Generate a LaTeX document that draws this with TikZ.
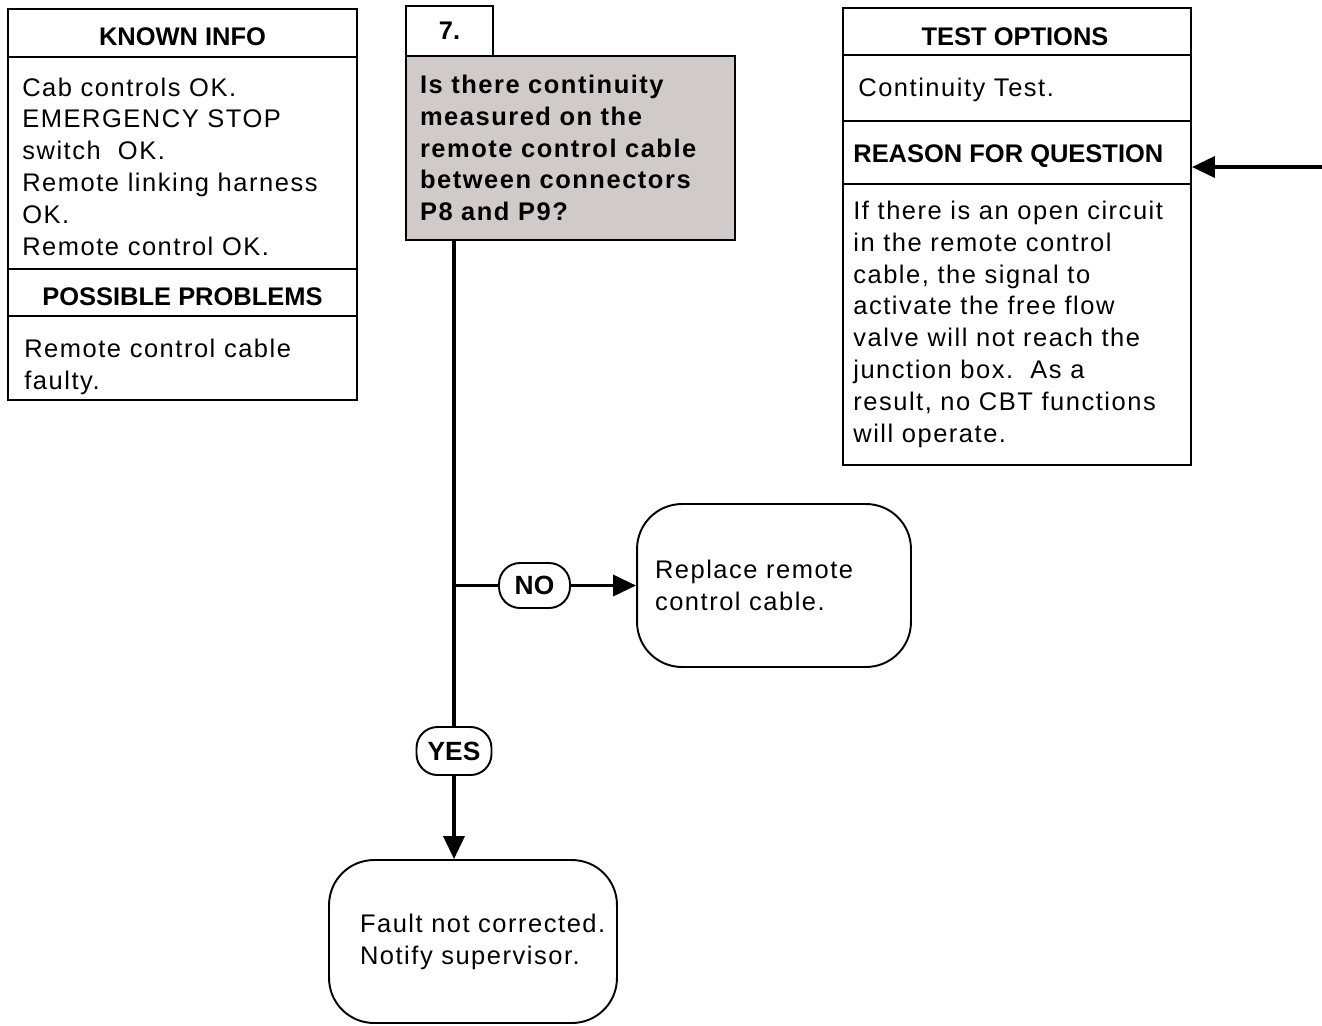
\documentclass[tikz,border=0pt]{standalone}
\usepackage{fontspec}
\setmainfont{Liberation Sans}
\newfontfamily\spacedfont[LetterSpace=6]{Liberation Sans}
\usetikzlibrary{arrows.meta, positioning, calc}
\definecolor{qgrey}{RGB}{208,202,200}
\tikzset{
  panel/.style={rectangle,draw,line width=1.1pt,inner sep=0pt},
  head/.style={font=\fontsize{14.5}{18.1}\selectfont\bfseries,inner sep=0pt,anchor=base},
  % base anchor of a multi-line node sits on its last line
  body/.style={font=\spacedfont\fontsize{14.5}{18.1}\selectfont,align=left,inner sep=0pt,anchor=base west},
  question/.style={rectangle,draw,line width=1.1pt,fill=qgrey,align=left,
    font=\spacedfont\fontsize{14.5}{18.1}\selectfont\bfseries,
    text width=6.02cm,inner xsep=0.28cm,minimum width=6.58cm,minimum height=3.68cm},
  stepno/.style={rectangle,draw,line width=1.1pt,fill=white,
    font=\fontsize{14.5}{18.1}\selectfont\bfseries,minimum width=1.74cm,minimum height=1cm},
  action/.style={rectangle,draw,line width=1.1pt,rounded corners=0.9cm,align=left,
    font=\spacedfont\fontsize{14.5}{18.1}\selectfont,minimum height=3.26cm},
  answer/.style={rectangle,draw,line width=1.1pt,rounded corners=0.42cm,fill=white,
    font=\fontsize{15}{18.1}\selectfont\bfseries,inner sep=0pt},
  trunk/.style={line width=2.2pt},
  flow/.style={line width=2.1pt,-{Triangle[length=0.46cm,width=0.42cm]}}
}
\newcommand{\faultindent}{\hspace*{0.54cm}}
\begin{document}
\begin{tikzpicture}[x=0.02cm,y=-0.02cm]
  \useasboundingbox (0,0) rectangle (1322,1025);

  % known info panel
  \node[panel,minimum width=6.98cm,minimum height=7.82cm] (known) at (182.5,204.5) {};
  \draw[line width=1.1pt] (known.west |- 0,57) -- (known.east |- 0,57);
  \draw[line width=1.1pt] (known.west |- 0,269) -- (known.east |- 0,269);
  \draw[line width=1.1pt] (known.west |- 0,316) -- (known.east |- 0,316);
  \node[head] (knownhd) at (182.5,45) {KNOWN INFO};
  \node[body] (knowntxt) at (22,255) {Cab controls OK.\\EMERGENCY STOP\\switch\ \ OK.\\Remote linking harness\\OK.\\Remote control OK.};
  \node[head] (probhd) at (182.5,305) {POSSIBLE PROBLEMS};
  \node[body] (probtxt) at (24,389) {Remote control cable\\faulty.};

  % question
  \node[question] (question) at (570.5,148) {Is there continuity\\measured on the\\remote control cable\\between connectors\\P8 and P9?};
  \node[stepno] (stepno) at (449.5,31) {7.};

  % test options panel
  \node[panel,minimum width=6.96cm,minimum height=9.14cm] (test) at (1017,236.5) {};
  \draw[line width=1.1pt] (test.west |- 0,55) -- (test.east |- 0,55);
  \draw[line width=1.1pt] (test.west |- 0,121) -- (test.east |- 0,121);
  \draw[line width=1.1pt] (test.west |- 0,184) -- (test.east |- 0,184);
  \node[head] (testhd) at (1015,45) {TEST OPTIONS};
  \node[body] (testtxt) at (858,96) {Continuity Test.};
  \node[head,anchor=base west] (reasonhd) at (853,162) {REASON FOR QUESTION};
  \node[body] (reasontxt) at (853,442) {If there is an open circuit\\in the remote control\\cable, the signal to\\activate the free flow\\valve will not reach the\\junction box.\ \ As a\\result, no CBT functions\\will operate.};
  \coordinate (feed) at (1322,167);
  \draw[flow] (feed) -- (feed -| test.east);

  % answers
  \node[answer,minimum width=1.42cm,minimum height=0.9cm] (no) at (534.5,585.5) {NO};
  \node[answer,minimum width=1.5cm,minimum height=0.96cm] (yes) at (454,751) {YES};
  \node[action,minimum width=5.48cm,text width=4.76cm] (replace) at (774,585.5) {Replace remote\\control cable.};
  \node[action,minimum width=5.76cm,text width=5.6cm,inner xsep=0.08cm] (fault) at (473,941.5) {\faultindent Fault not corrected.\\\faultindent Notify supervisor.};

  \coordinate (split) at (yes |- no);
  \draw[trunk] (question.south -| yes) -- (yes.north);
  \draw[trunk] (split) -- (no.west);
  \draw[flow] (no.east) -- (replace.west);
  \draw[flow] (yes.south) -- (yes |- fault.north);
\end{tikzpicture}
\end{document}
